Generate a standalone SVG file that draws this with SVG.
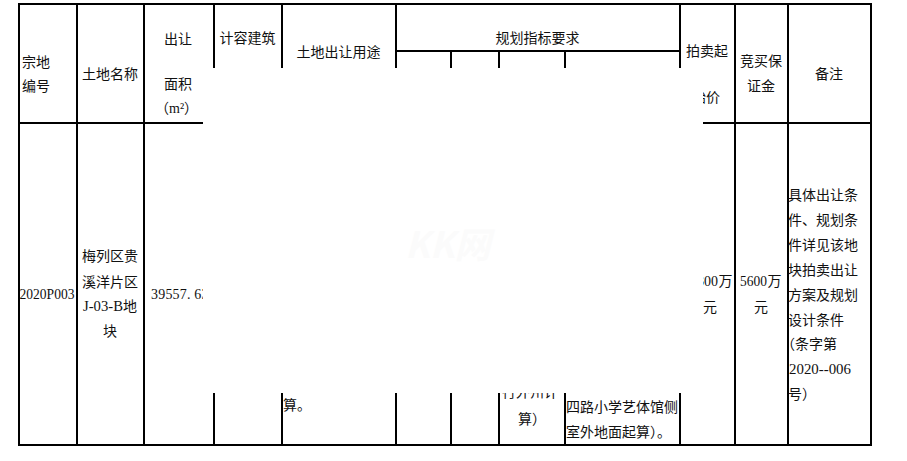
<svg xmlns="http://www.w3.org/2000/svg" width="907" height="461" viewBox="0 0 907 461">
<style>
.l{stroke:#000;stroke-width:2;fill:none}
text{font-family:"Noto Sans CJK SC","Liberation Sans",sans-serif;font-size:14px;fill:#111}
.m{font-family:"Liberation Serif","Noto Sans CJK SC",serif;font-size:14px}
.wm{font-size:36px;font-weight:700;font-style:italic;fill:#fbfbfb}
</style>
<defs>
<clipPath id="cl"><rect x="0" y="0" width="203" height="461"/></clipPath>
<clipPath id="cr"><rect x="703" y="0" width="204" height="461"/></clipPath>
<clipPath id="cb"><rect x="498" y="393" width="68" height="20"/></clipPath>
</defs>
<rect width="907" height="461" fill="#fff"/>
<text class="wm" x="405" y="258">KK网</text>
<g id="grid">
<path class="l" d="M18 4H872M19 3V446M18 445H872M19 123H203M703 123H872M77 4V445M144 4V445M735 4V445M788 4V445M871 3V446"/>
<path class="l" d="M214 4V68M282 4V68M396 4V68M451 51V68M499 51V68M565 51V68M680 4V68M396 51H680"/>
<path class="l" d="M214 393V445M282 393V445M396 393V445M451 393V445M499 393V445M565 393V445M680 393V445"/>
</g>
<g id="header">
<text x="22" y="67">宗地</text><text x="22" y="91">编号</text>
<text x="82" y="79">土地名称</text>
<text x="164" y="44">出让</text><text x="164" y="89">面积</text><text x="155" y="113">（<tspan class="m">m²</tspan>）</text>
<text x="219.500" y="43">计容建筑</text>
<text x="296.500" y="57">土地出让用途</text>
<text x="495.500" y="42.500">规划指标要求</text>
<text x="686" y="56">拍卖起</text>
<text x="692" y="102" clip-path="url(#cr)">始价</text>
<text x="740" y="66">竞买保</text><text x="747" y="91">证金</text>
<text x="815" y="79">备注</text>
</g>
<g id="row">
<text class="m" x="19.500" y="299" textLength="55" lengthAdjust="spacingAndGlyphs">2020P003</text>
<text x="82" y="261">梅列区贵</text><text x="82" y="287">溪洋片区</text>
<text class="m" x="83" y="311" textLength="40" lengthAdjust="spacingAndGlyphs">J-03-B</text><text x="123" y="311">地</text><text x="103" y="336">块</text>
<text class="m" x="151 158.200 165.400 172.600 179.800 187 194.200 201.400" y="299" clip-path="url(#cl)">39557.63</text>
<text x="283" y="410">算。</text>
<text x="502" y="397" clip-path="url(#cb)">行外州计</text>
<text x="518" y="424">算）</text>
<text x="566" y="412">四路小学艺体馆侧</text>
<text x="566" y="437">室外地面起算）。</text>
<text class="m" x="690" y="286" clip-path="url(#cr)">1300</text><text x="718.500" y="286">万</text>
<text x="703" y="312">元</text>
<text class="m" x="740" y="286" textLength="27" lengthAdjust="spacingAndGlyphs">5600</text><text x="767.500" y="286">万</text>
<text x="754" y="312">元</text>
<text x="788" y="200">具体出让条</text>
<text x="788" y="225">件、规划条</text>
<text x="788" y="250">件详见该地</text>
<text x="788" y="275">块拍卖出让</text>
<text x="788" y="300">方案及规划</text>
<text x="788" y="325">设计条件</text>
<text x="781" y="349">（条字第</text>
<text class="m" x="789" y="374" textLength="62" lengthAdjust="spacingAndGlyphs">2020--006</text>
<text x="788" y="399">号）</text>
</g>
</svg>
